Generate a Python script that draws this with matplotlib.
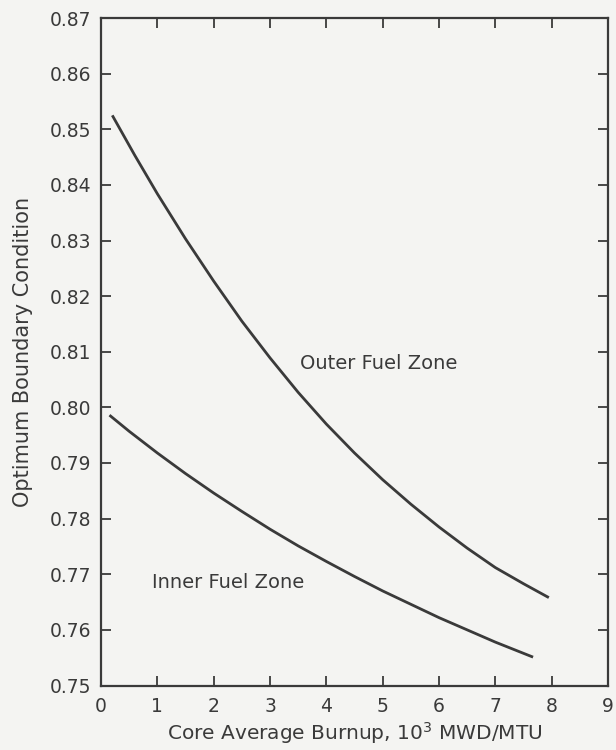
import matplotlib
matplotlib.use('Agg')
import matplotlib.pyplot as plt

# burnup (10^3 MWD/MTU) vs optimum boundary condition
outer_burnup = [0.2, 0.6, 1.0, 1.5, 2.0, 2.5, 3.0, 3.5, 4.0, 4.5, 5.0, 5.5, 6.0, 6.5, 7.0, 7.5, 7.95]
outer_bc = [0.8525, 0.8453, 0.8384, 0.8303, 0.8227, 0.8155, 0.8089, 0.8027, 0.7970,
            0.7918, 0.7870, 0.7826, 0.7785, 0.7747, 0.7712, 0.7683, 0.7658]

inner_burnup = [0.15, 0.5, 1.0, 1.5, 2.0, 2.5, 3.0, 3.5, 4.0, 4.5, 5.0, 5.5, 6.0, 6.5, 7.0, 7.67]
inner_bc = [0.7986, 0.7957, 0.7918, 0.7881, 0.7846, 0.7813, 0.7781, 0.7751, 0.7723,
            0.7696, 0.7670, 0.7646, 0.7622, 0.7600, 0.7578, 0.7551]

x_ticks = list(range(0, 10))
y_ticks = [0.75, 0.76, 0.77, 0.78, 0.79, 0.80, 0.81, 0.82, 0.83, 0.84, 0.85, 0.86, 0.87]

plt.rcParams['font.family'] = ['DejaVu Sans']
ink = '#3a3a3a'
paper = '#f4f4f2'

fig = plt.figure(figsize=(6.16, 7.5), dpi=100, facecolor=paper)
ax = fig.add_axes([0.164, 0.086, 0.823, 0.890], facecolor=paper)

ax.plot(outer_burnup, outer_bc, color=ink, lw=2.0, solid_capstyle='butt')
ax.plot(inner_burnup, inner_bc, color=ink, lw=2.0, solid_capstyle='butt')

ax.text(3.53, 0.8078, 'Outer Fuel Zone', fontsize=14, color=ink, va='center')
ax.text(0.9, 0.7686, 'Inner Fuel Zone', fontsize=14, color=ink, va='center')

ax.set_xlim(0, 9)
ax.set_ylim(0.75, 0.87)
ax.set_xticks(x_ticks)
ax.set_yticks(y_ticks)
ax.set_yticklabels(['%.2f' % v for v in y_ticks])
ax.tick_params(direction='in', length=7, width=1.3, colors=ink, labelsize=13.5,
               top=True, right=True)
ax.tick_params(axis='x', pad=8)
ax.tick_params(axis='y', pad=7)
for s in ax.spines.values():
    s.set_color(ink)
    s.set_linewidth(1.6)

ax.set_xlabel('Core Average Burnup, 10$^3$ MWD/MTU', fontsize=14.5, color=ink, labelpad=3)
ax.set_ylabel('Optimum Boundary Condition', fontsize=15, color=ink, labelpad=12)

fig.savefig('out.png', dpi=100, facecolor=paper)
